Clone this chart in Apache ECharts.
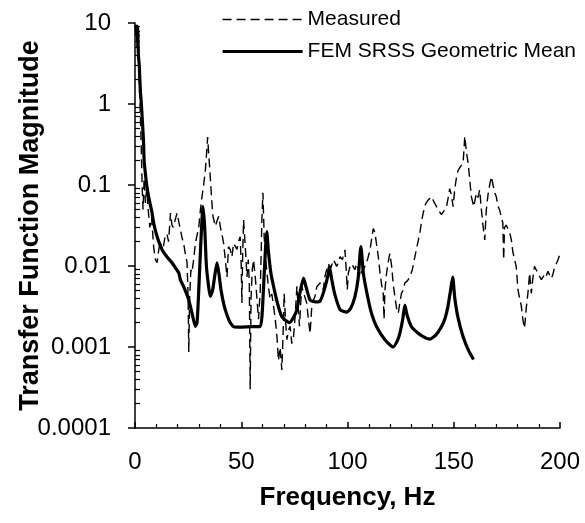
<!DOCTYPE html>
<html>
<head>
<meta charset="utf-8">
<script src="https://cdn.jsdelivr.net/npm/echarts@6/dist/echarts.min.js"></script>
<style>
html,body{margin:0;padding:0;background:#fff;}
#chart{width:585px;height:523px;}
</style>
</head>
<body>
<div id="chart"></div>
<script>
// ---- Data ----
const seriesNames = ['Measured', 'FEM SRSS Geometric Mean'];
const xTickLabels = ['0', '50', '100', '150', '200'];
const yTickLabels = ['0.0001', '0.001', '0.01', '0.1', '1', '10'];

const measuredFreq = [0.3,0.6,0.9,1.2,1.5,1.8,2.1,2.4,2.7,3.0,3.4,3.8,4.3,4.9,5.5,6.2,7.0,7.8,8.8,9.6,10.4,11.2,11.9,13.0,14.0,15.0,15.8,16.7,17.4,18.0,19.0,19.8,20.6,21.4,22.2,22.9,23.7,24.5,25.0,25.3,25.7,26.3,26.8,27.6,28.4,29.2,30.0,30.8,31.5,32.3,33.1,33.7,34.2,34.6,35.1,35.8,36.3,36.7,37.3,37.8,38.6,39.4,40.2,41.0,41.7,42.5,43.3,44.0,44.8,45.6,46.4,47.2,48.0,48.7,49.5,50.0,50.3,50.7,51.1,51.5,51.9,52.7,53.3,53.8,54.2,54.6,55.2,55.8,56.6,57.4,58.1,58.9,59.4,59.7,60.2,60.8,61.4,62.0,62.8,63.6,64.4,65.2,66.0,66.8,67.5,68.3,69.1,69.7,70.2,70.8,71.5,72.2,73.0,73.8,74.6,75.4,76.2,76.8,77.4,78.0,78.5,79.2,80.0,80.8,81.6,82.4,83.2,84.0,84.7,85.5,86.3,87.1,87.9,88.6,89.4,90.2,91.0,92.2,93.3,94.1,94.9,95.7,96.5,97.6,98.8,99.4,99.9,100.4,101.2,102.0,102.7,103.5,104.3,105.1,105.9,106.6,107.4,108.2,109.4,110.6,111.4,112.1,112.9,113.7,114.5,115.3,116.0,116.8,117.2,117.6,118.4,119.1,119.9,120.8,121.5,122.3,123.1,123.9,124.6,125.4,126.2,127.0,128.1,129.3,130.5,131.7,132.8,134.0,134.8,135.6,136.7,137.9,139.5,140.7,141.9,143.0,144.2,145.4,146.6,147.4,148.1,148.9,149.7,150.5,151.2,152.0,153.2,154.4,155.2,156.0,156.8,157.6,158.3,159.4,160.0,160.7,161.4,162.2,163.0,163.8,164.6,165.3,166.1,166.9,167.7,168.5,169.3,170.0,170.8,171.6,172.4,173.1,173.5,173.9,174.7,175.5,176.3,177.1,177.8,178.6,179.4,180.2,181.0,181.8,182.5,183.3,184.1,184.9,185.7,186.5,187.2,188.0,188.8,189.6,190.4,191.2,192.0,192.8,193.5,194.3,195.1,195.9,196.6,197.4,198.2,199.1,200.0];
const measuredVal = [8,9.5,5,9,7,3,1.5,0.9,0.5,0.25,0.09,0.05,0.12,0.06,0.09,0.05,0.03,0.04,0.017,0.012,0.011,0.016,0.02,0.015,0.022,0.025,0.02,0.045,0.032,0.03,0.038,0.045,0.035,0.028,0.022,0.019,0.014,0.011,0.004,0.00087,0.004,0.009,0.0083,0.012,0.019,0.024,0.03,0.05,0.071,0.1,0.15,0.25,0.39,0.26,0.17,0.087,0.055,0.041,0.035,0.031,0.036,0.041,0.03,0.024,0.019,0.012,0.0073,0.0173,0.016,0.013,0.019,0.02,0.016,0.02,0.023,0.01,0.0035,0.015,0.037,0.025,0.0173,0.0073,0.012,0.006,0.0003,0.004,0.009,0.0119,0.0073,0.0039,0.0022,0.0047,0.015,0.037,0.08,0.023,0.013,0.0088,0.0055,0.0039,0.0045,0.0032,0.0022,0.00134,0.00068,0.00099,0.00052,0.0015,0.0046,0.0022,0.00123,0.0016,0.0018,0.0011,0.00134,0.0025,0.0056,0.003,0.0018,0.0035,0.0056,0.0048,0.0046,0.0035,0.0022,0.00146,0.0032,0.0038,0.0042,0.0055,0.0052,0.0062,0.0058,0.0051,0.0075,0.009,0.0106,0.0095,0.0119,0.011,0.0099,0.011,0.013,0.012,0.0158,0.009,0.0051,0.0082,0.0099,0.0106,0.0106,0.009,0.0106,0.009,0.0073,0.0085,0.009,0.0099,0.012,0.0158,0.022,0.029,0.026,0.025,0.013,0.0082,0.006,0.0046,0.0022,0.005,0.0082,0.011,0.0142,0.0099,0.006,0.0042,0.003,0.0026,0.0035,0.0046,0.005,0.0062,0.0065,0.0073,0.009,0.013,0.018,0.025,0.035,0.045,0.058,0.065,0.072,0.062,0.054,0.048,0.043,0.048,0.054,0.07,0.09,0.075,0.054,0.09,0.12,0.15,0.17,0.185,0.4,0.25,0.185,0.11,0.072,0.054,0.065,0.079,0.07,0.087,0.05,0.031,0.021,0.049,0.075,0.1,0.127,0.1,0.08,0.072,0.055,0.049,0.04,0.034,0.012,0.03,0.032,0.031,0.026,0.021,0.015,0.012,0.0099,0.0051,0.004,0.0032,0.0022,0.0017,0.003,0.0046,0.0082,0.0046,0.007,0.0099,0.009,0.0082,0.0078,0.0068,0.0073,0.008,0.0075,0.0086,0.0082,0.007,0.0078,0.0095,0.0106,0.012,0.0142];

const femFreq = [0.4,0.8,1.2,1.6,2.0,2.5,3.0,3.5,4.0,4.3,5.0,5.5,6.5,7.9,8.8,10,11.5,12.8,15,17.5,19,20.6,21.4,23,25.3,27,28.4,29.2,30,31,32,32.8,33.6,34.5,35.4,36.5,37.5,38.6,39.5,40.5,42,43.5,44.8,46.5,49.5,55,58.9,59.8,60.8,61.5,62,62.8,64,65.2,67,69.1,72.7,74.5,76.2,77.5,79.3,80.5,82.4,85,87.1,89,91,91.5,92.5,94,96.5,99.6,101.5,103.5,105,106.3,107.5,109.8,111.5,113.7,117.6,121.5,123.5,124.6,126,127,128,130.1,133,135.6,138.7,141.5,144.2,146,147.3,148.5,149.5,150.5,152,154.4,157,159.3];
const femVal = [9.5,7,9,4,3,1.5,1.0,0.6,0.35,0.2,0.13,0.1,0.07,0.047,0.034,0.025,0.019,0.0158,0.013,0.0109,0.0095,0.0082,0.0067,0.0055,0.0038,0.0025,0.0018,0.002,0.005,0.02,0.054,0.03,0.01,0.006,0.0042,0.005,0.0075,0.0109,0.008,0.005,0.0032,0.0024,0.002,0.00178,0.00176,0.00178,0.00178,0.0025,0.008,0.018,0.0265,0.015,0.008,0.0056,0.0035,0.00237,0.002,0.0023,0.0029,0.0045,0.0071,0.0055,0.0038,0.0036,0.0037,0.005,0.0081,0.0099,0.007,0.0045,0.0029,0.0027,0.003,0.0042,0.007,0.0174,0.008,0.0038,0.0025,0.00178,0.00123,0.001,0.0012,0.00146,0.0022,0.0033,0.0025,0.00178,0.0015,0.00134,0.00125,0.0014,0.00178,0.0023,0.0032,0.005,0.0073,0.004,0.0023,0.00134,0.0009,0.0007];

// ---- Build chart ----
const measuredData = measuredFreq.map((f, i) => [f, measuredVal[i]]);
const femData = femFreq.map((f, i) => [f, femVal[i]]);

const FONT = 'Liberation Sans, Arial, sans-serif';
const chart = echarts.init(document.getElementById('chart'), null, {renderer: 'canvas'});
chart.setOption({
  animation: false,
  backgroundColor: '#fff',
  grid: {left: 135, right: 25, top: 23, bottom: 95, containLabel: false, outerBoundsMode: 'none'},
  legend: {
    orient: 'vertical',
    left: 216,
    top: 4,
    itemWidth: 80,
    itemHeight: 22,
    itemGap: 11,
    itemStyle: {opacity: 0},
    data: [
      {name: seriesNames[0], lineStyle: {width: 1.4}},
      {name: seriesNames[1], lineStyle: {width: 3.2}}
    ],
    textStyle: {fontFamily: FONT, fontSize: 21, color: '#000'}
  },
  xAxis: {
    type: 'value',
    min: 0, max: 200, interval: 50,
    name: 'Frequency, Hz',
    nameLocation: 'middle',
    nameGap: 57,
    nameMoveOverlap: false,
    nameTextStyle: {fontFamily: FONT, fontSize: 26, fontWeight: 'bold', color: '#000'},
    axisLine: {show: true, lineStyle: {color: '#000', width: 1.5}},
    axisTick: {show: true, inside: true, length: 6, lineStyle: {color: '#000', width: 1.5}},
    minorTick: {show: true, splitNumber: 5, length: 4, lineStyle: {color: '#000', width: 1.2}},
    splitLine: {show: false},
    axisLabel: {
      fontFamily: FONT, fontSize: 24, color: '#000', margin: 22,
      formatter: v => xTickLabels[Math.round(v / 50)]
    }
  },
  yAxis: {
    type: 'log',
    logBase: 10,
    min: 0.0001, max: 10,
    name: 'Transfer Function Magnitude',
    nameLocation: 'middle',
    nameRotate: 90,
    nameGap: 91,
    nameMoveOverlap: false,
    nameTextStyle: {fontFamily: FONT, fontSize: 27, fontWeight: 'bold', color: '#000'},
    axisLine: {show: true, lineStyle: {color: '#000', width: 1.5}},
    axisTick: {show: true, inside: true, length: -7, lineStyle: {color: '#000', width: 1.5}},
    minorTick: {show: true, splitNumber: 9, length: 5, lineStyle: {color: '#000', width: 1.2}},
    splitLine: {show: false},
    minorSplitLine: {show: false},
    axisLabel: {
      fontFamily: FONT, fontSize: 24, color: '#000', margin: 24,
      formatter: v => yTickLabels[Math.round(Math.log10(v)) + 4]
    }
  },
  series: [{
    name: seriesNames[0],
    type: 'line',
    data: measuredData,
    symbol: 'none',
    lineStyle: {color: '#000', width: 1.4, type: [9, 5]},
    itemStyle: {color: '#000'},
    z: 2
  }, {
    name: seriesNames[1],
    type: 'line',
    data: femData,
    symbol: 'none',
    smooth: 0.2,
    lineStyle: {color: '#000', width: 3.2},
    itemStyle: {color: '#000'},
    z: 3
  }]
});
</script>
</body>
</html>
